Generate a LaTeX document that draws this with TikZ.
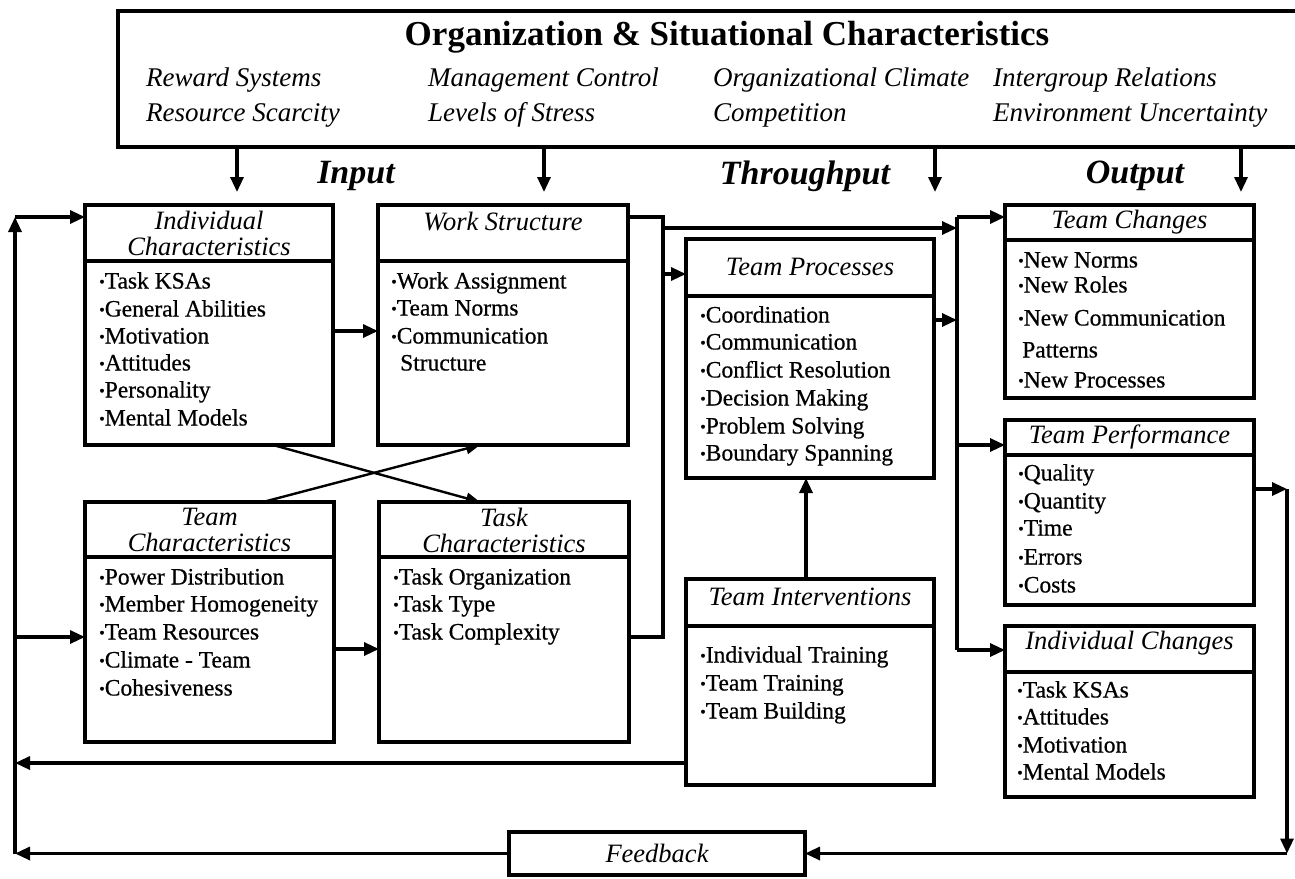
\documentclass[tikz,border=0pt]{standalone}
\usepackage{fontspec}
\setmainfont{Liberation Serif}
\newfontfamily\bodyfam[FakeBold=0.6]{Liberation Serif}
\usetikzlibrary{arrows.meta}
\newcommand\bodyf{\bodyfam\fontsize{23.5}{27.5}\selectfont}
\newcommand\headf{\fontsize{26.5}{26}\selectfont\itshape}
\newcommand\topf{\fontsize{27}{30}\selectfont\itshape}
\newcommand\titlef{\fontsize{35}{40}\selectfont\bfseries}
\newcommand\labf{\fontsize{34}{38}\selectfont\bfseries\itshape}
\newcommand\mybul{{\fontsize{16}{16}\selectfont\raisebox{1.5pt}{•}}}
\begin{document}
\begin{tikzpicture}[x=1pt,y=-1pt,
  box/.style={draw, line width=3.2pt, inner sep=0pt, outer sep=0pt, anchor=north west},
  dv/.style={line width=3.2pt},
  ln/.style={line width=3.2pt},
  arr/.style={-{Triangle[length=15pt,width=13pt]}, line width=3.2pt},
  xarr/.style={-{Triangle[length=14pt,width=11pt]}, line width=2.4pt},
  item/.style={font=\bodyf, inner sep=0pt, anchor=west, text height=16pt, text depth=5pt},
  head/.style={font=\headf, inner sep=0pt, align=center},
  topit/.style={font=\topf, inner sep=0pt, anchor=west, text height=19pt, text depth=6pt},
  lab/.style={font=\labf, inner sep=0pt}]
\fill[white] (0,0) rectangle (1295,878);
\useasboundingbox (0,0) rectangle (1295,878);

% ---------- top box ----------
\node[box, minimum width=1192, minimum height=136] (org) at (118,11) {};
\node[font=\titlef, inner sep=0pt] (orgt) at (727,37) {Organization \& Situational Characteristics};
\node[topit] (o1) at (146,80) {Reward Systems};
\node[topit] (o2) at (146,115) {Resource Scarcity};
\node[topit] (o3) at (428,80) {Management Control};
\node[topit] (o4) at (428,115) {Levels of Stress};
\node[topit] (o5) at (713,80) {Organizational Climate};
\node[topit] (o6) at (713,115) {Competition};
\node[topit] (o7) at (993,80) {Intergroup Relations};
\node[topit] (o8) at (993,115) {Environment Uncertainty};

\coordinate (d1) at (237,192);
\coordinate (d2) at (544,192);
\coordinate (d3) at (935,192);
\coordinate (d4) at (1241,192);
\foreach \d in {d1,d2,d3,d4} \draw[arr] (org.south -| \d) -- (\d);

\node[lab] (lin) at (356,176) {Input};
\node[lab] (lthr) at (805,176) {Throughput};
\node[lab] (lout) at (1135,176) {Output};

% ---------- boxes ----------
\node[box, minimum width=248, minimum height=240] (ic) at (85,205) {};
\node[box, minimum width=250, minimum height=240] (ws) at (378,205) {};
\node[box, minimum width=249, minimum height=240] (tc) at (85,502) {};
\node[box, minimum width=250, minimum height=240] (tk) at (379,502) {};
\node[box, minimum width=248, minimum height=239] (tp) at (686,239) {};
\node[box, minimum width=248, minimum height=206] (ti) at (686,579) {};
\node[box, minimum width=249, minimum height=193] (tch) at (1005,205) {};
\node[box, minimum width=249, minimum height=185] (tpf) at (1005,420) {};
\node[box, minimum width=249, minimum height=171] (ich) at (1005,626) {};
\node[box, minimum width=296, minimum height=43, anchor=center, font=\headf] (fb) at (657,853.5) {Feedback};

% dividers
\draw[dv] (ic.west |- 0,261) -- (ic.east |- 0,261);
\draw[dv] (ws.west |- 0,261) -- (ws.east |- 0,261);
\draw[dv] (tc.west |- 0,557) -- (tc.east |- 0,557);
\draw[dv] (tk.west |- 0,557) -- (tk.east |- 0,557);
\draw[dv] (tp.west |- 0,296) -- (tp.east |- 0,296);
\draw[dv] (ti.west |- 0,626) -- (ti.east |- 0,626);
\draw[dv] (tch.west |- 0,240) -- (tch.east |- 0,240);
\draw[dv] (tpf.west |- 0,455) -- (tpf.east |- 0,455);
\draw[dv] (ich.west |- 0,672) -- (ich.east |- 0,672);

% headers
\node[head] (ich1) at (209,233) {Individual\\Characteristics};
\node[head] (wsh) at (503,222) {Work Structure};
\node[head] (tch1) at (209.5,530) {Team\\Characteristics};
\node[head] (tkh) at (504,530) {Task\\Characteristics};
\node[head] (tph) at (810,267) {Team Processes};
\node[head] (tih) at (810,597) {Team Interventions};
\node[head] (tchh) at (1129.5,222) {Team Changes};
\node[head] (tpfh) at (1129.5,437) {Team Performance};
\node[head] (ichh) at (1129.5,643) {Individual Changes};

% items
\foreach \t/\yy [count=\i] in {Task KSAs/283, General Abilities/311, Motivation/338, Attitudes/365, Personality/392, Mental Models/420}
  \node[item] (ic-\i) at (99,\yy) {\mybul\t};
\foreach \t/\yy [count=\i] in {Work Assignment/283, Team Norms/310, Communication/338}
  \node[item] (ws-\i) at (391,\yy) {\mybul\t};
\node[item] (ws-4) at (400,365) {Structure};
\foreach \t/\yy [count=\i] in {Power Distribution/579, Member Homogeneity/606, Team Resources/634, Climate - Team/662, Cohesiveness/690}
  \node[item] (tc-\i) at (99,\yy) {\mybul\t};
\foreach \t/\yy [count=\i] in {Task Organization/579, Task Type/606, Task Complexity/634}
  \node[item] (tk-\i) at (393,\yy) {\mybul\t};
\foreach \t/\yy [count=\i] in {Coordination/317, Communication/344, Conflict Resolution/372, Decision Making/400, Problem Solving/428, Boundary Spanning/455}
  \node[item] (tp-\i) at (700,\yy) {\mybul\t};
\foreach \t/\yy [count=\i] in {Individual Training/657, Team Training/685, Team Building/713}
  \node[item] (ti-\i) at (700,\yy) {\mybul\t};
\node[item] (tch-1) at (1018,262) {\mybul New Norms};
\node[item] (tch-2) at (1018,287) {\mybul New Roles};
\node[item] (tch-3) at (1018,320) {\mybul New Communication};
\node[item] (tch-4) at (1022,352) {Patterns};
\node[item] (tch-5) at (1018,382) {\mybul New Processes};
\foreach \t/\yy [count=\i] in {Quality/475, Quantity/503, Time/530, Errors/559, Costs/587}
  \node[item] (tpf-\i) at (1018,\yy) {\mybul\t};
\foreach \t/\yy [count=\i] in {Task KSAs/692, Attitudes/719, Motivation/747, Mental Models/774}
  \node[item] (ich-\i) at (1017,\yy) {\mybul\t};

% ---------- connectors ----------
% left loop
\coordinate (lt) at (15,217);
\draw[arr] (fb.west) -- (15,853.5);
\draw[ln] (15,853.5) -- (15,230);
\draw[arr] (15,853.5) -- (lt);
\draw[arr] (lt) -- (ic.west |- lt);
\draw[arr] (15,637) -- (tc.west |- 0,637);
\draw[arr] (ti.west |- 0,763) -- (15,763);

% input connections
\draw[arr] (ic.east |- 0,331) -- (ws.west |- 0,331);
\draw[arr] (tc.east |- 0,649) -- (tk.west |- 0,649);
\draw[xarr] ([xshift=64pt]ic.south) -- ([xshift=-24pt]tk.north);
\draw[xarr] ([xshift=53.5pt]tc.north) -- ([xshift=-23pt]ws.south);

% collector to throughput
\coordinate (j1) at (663,217);
\coordinate (j2) at (663,637);
\draw[ln] (ws.east |- j1) -- (j1) -- (j2) -- (tk.east |- j2);
\coordinate (br) at (957,228);
\draw[arr] (663,228) -- (br);
\draw[arr] (663,274) -- (tp.west |- 0,274);
\draw[arr] (tp.east |- 0,320) -- (957,320);
\draw[arr] ([xshift=-4pt]ti.north) -- ([xshift=-4pt]tp.south);

% output bracket
\draw[ln] (957,217) -- (957,650);
\draw[arr] (957,217) -- (tch.west |- 0,217);
\draw[arr] (957,445) -- (tpf.west |- 0,445);
\draw[arr] (957,650) -- (ich.west |- 0,650);

% feedback loop right
\coordinate (rt) at (1287,489);
\coordinate (rb) at (1287,853.5);
\draw[arr] (tpf.east |- rt) -- (rt);
\draw[arr] (rt) -- (rb);
\draw[arr] (rb) -- (fb.east);
\end{tikzpicture}
\end{document}
